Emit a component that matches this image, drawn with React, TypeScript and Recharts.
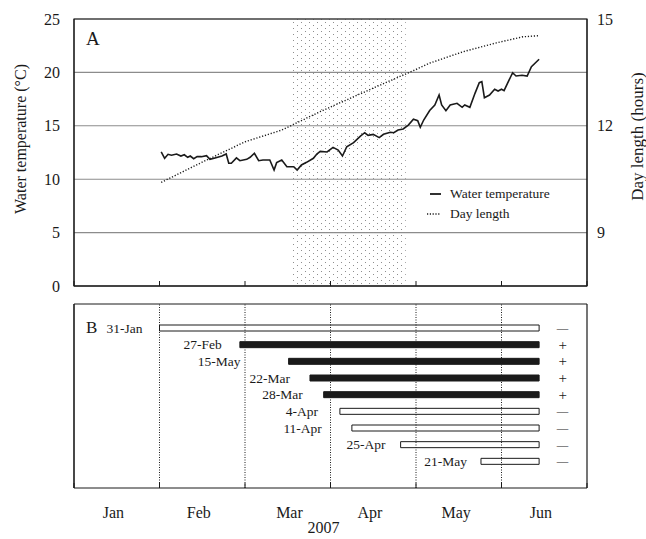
import {
  ComposedChart,
  BarChart,
  Line,
  Bar,
  Cell,
  XAxis,
  YAxis,
  CartesianGrid,
  ReferenceArea,
  ReferenceLine,
  LabelList,
  Legend,
} from "recharts"

const SERIF = "'Liberation Serif', 'Times New Roman', Times, serif"
const INK = "#1a1a1a"

// x is in month units: 0 = start of Jan, 1 = start of Feb, ... 6 = end of Jun
const monthEdges = [0, 1, 2, 3, 4, 5, 6]
const monthNames = ["Jan", "Feb", "Mar", "Apr", "May", "Jun"]
const monthLabelAt = [0.46, 1.46, 2.52, 3.46, 4.47, 5.46]

const tempTicks = [0, 5, 10, 15, 20, 25]
const dayTicks = [9, 12, 15]

// panel A – water temperature (°C)
const waterX = [
  1.02, 1.06, 1.1, 1.14, 1.2, 1.25, 1.29, 1.33, 1.36, 1.4, 1.44, 1.49, 1.55, 1.59, 1.65, 1.73, 1.78, 1.81,
  1.84, 1.9, 1.94, 2.02, 2.06, 2.11, 2.16, 2.21, 2.29, 2.34, 2.37, 2.43, 2.49, 2.57, 2.61, 2.66, 2.72, 2.8,
  2.84, 2.88, 2.96, 3.03, 3.09, 3.14, 3.19, 3.27, 3.35, 3.4, 3.44, 3.5, 3.57, 3.62, 3.7, 3.74, 3.79, 3.85,
  3.91, 3.97, 4.02, 4.05, 4.09, 4.16, 4.22, 4.27, 4.3, 4.35, 4.4, 4.48, 4.54, 4.57, 4.63, 4.69, 4.74, 4.77,
  4.8, 4.86, 4.92, 4.96, 5.0, 5.03, 5.07, 5.13, 5.17, 5.24, 5.3, 5.35, 5.44,
]
const waterT = [
  12.55, 11.96, 12.33, 12.24, 12.36, 12.17, 12.29, 12.05, 12.17, 11.92, 12.11, 12.11, 12.2, 11.86, 11.99,
  12.17, 12.36, 11.49, 11.49, 11.99, 11.73, 11.86, 12.05, 12.43, 11.73, 11.8, 11.8, 10.86, 11.55, 11.8,
  11.17, 11.17, 10.86, 11.33, 11.58, 11.96, 12.36, 12.6, 12.55, 12.98, 12.73, 12.17, 13.04, 13.42, 14.04,
  14.35, 14.11, 14.2, 13.89, 14.2, 14.39, 14.35, 14.61, 14.7, 15.07, 15.61, 15.48, 14.86, 15.54, 16.43,
  16.95, 17.88, 16.95, 16.41, 16.95, 17.11, 16.73, 16.95, 16.73, 18.04, 19.04, 19.13, 17.63, 17.88, 18.42,
  18.26, 18.42, 18.29, 18.98, 19.97, 19.66, 19.73, 19.66, 20.53, 21.23,
]

// panel A – day length (hours)
const dayX = [1.02, 1.5, 2.0, 2.43, 2.88, 3.5, 3.99, 4.16, 4.55, 4.94, 5.25, 5.43]
const dayH = [10.41, 10.98, 11.55, 11.88, 12.4, 13.06, 13.57, 13.76, 14.08, 14.33, 14.5, 14.53]

// dotted period
const shadeFrom = 2.54
const shadeTo = 3.88

// panel B – release groups
const groupNames = ["31-Jan", "27-Feb", "15-May", "22-Mar", "28-Mar", "4-Apr", "11-Apr", "25-Apr", "21-May"]
const groupStart = [1.0, 1.94, 2.51, 2.76, 2.92, 3.11, 3.25, 3.82, 4.76]
const groupEnd = 5.44
const groupFilled = [false, true, true, true, true, false, false, false, false]
const groupSign = ["\u2014", "+", "+", "+", "+", "\u2014", "\u2014", "\u2014", "\u2014"]

const waterData = waterX.map((m, i) => ({ m, v: waterT[i] }))
const dayData = dayX.map((m, i) => ({ m, v: dayH[i] }))
const groupRows = groupNames.map((name, i) => ({
  name,
  span: [groupStart[i], groupEnd],
  filled: groupFilled[i],
  sign: groupSign[i],
}))

// hand-placed gap (px) between each date label and its bar, as in the original figure
const dateLabelGap = [17, 18, 48, 20, 21, 22, 30, 15, 14]

const noTickText = () => <g />

const leftTitle = (props: any) => {
  const vb = props.viewBox
  const cx = vb.x + 2
  const cy = vb.y + vb.height / 2 - 13.5
  return (
    <text x={cx} y={cy} transform={`rotate(-90, ${cx}, ${cy})`} textAnchor="middle" dominantBaseline="central"
      fontFamily={SERIF} fontSize={16} fill={INK}>
      Water temperature (°C)
    </text>
  )
}

const rightTitle = (props: any) => {
  const vb = props.viewBox
  const cx = vb.x + vb.width + 5
  const cy = vb.y + vb.height / 2 - 16
  return (
    <text x={cx} y={cy} transform={`rotate(-90, ${cx}, ${cy})`} textAnchor="middle" dominantBaseline="central"
      fontFamily={SERIF} fontSize={17} fill={INK}>
      Day length (hours)
    </text>
  )
}

const panelTag = (tag: string, dy: number, size: number) => (props: any) => {
  const vb = props.viewBox
  return (
    <text x={vb.x + 12} y={vb.y + dy} fontFamily={SERIF} fontSize={size} fill={INK}>
      {tag}
    </text>
  )
}

const yearTitle = (props: any) => {
  const vb = props.viewBox
  return (
    <text x={vb.x + vb.width / 2 - 7} y={vb.y + vb.height - 6.5} textAnchor="middle"
      fontFamily={SERIF} fontSize={16} fill={INK}>
      2007
    </text>
  )
}

const dateLabel = (p: any) => (
  <text x={Number(p.x) - (dateLabelGap[p.index] ?? 18)} y={Number(p.y) + Number(p.height) / 2} textAnchor="end"
    dominantBaseline="central" fontFamily={SERIF} fontSize={13.5} fill={INK}>
    {p.value}
  </text>
)

const signLabel = (p: any) => (
  <text x={Number(p.x) + Number(p.width) + 23.5} y={Number(p.y) + Number(p.height) / 2} textAnchor="middle"
    dominantBaseline="central" fontFamily={SERIF} fontSize={p.value === "+" ? 15 : 11.5} fill={INK}>
    {p.value}
  </text>
)

const LegendBox = () => (
  <div style={{ fontFamily: SERIF, fontSize: 13.5, color: INK, lineHeight: "20px" }}>
    <div style={{ display: "flex", alignItems: "center", height: 20 }}>
      <svg width={20} height={10}>
        <line x1={5} y1={5} x2={16} y2={5} stroke={INK} strokeWidth={1.8} />
      </svg>
      <span style={{ marginLeft: 5 }}>Water temperature</span>
    </div>
    <div style={{ display: "flex", alignItems: "center", height: 20 }}>
      <svg width={20} height={10}>
        <line x1={2} y1={5} x2={16} y2={5} stroke={INK} strokeWidth={1.3} strokeDasharray="1.2 1.6" />
      </svg>
      <span style={{ marginLeft: 5 }}>Day length</span>
    </div>
  </div>
)

export default function App() {
  return (
    <div style={{ position: "absolute", left: 0, top: 0, width: 646, height: 539, background: "#fff", fontFamily: SERIF }}>
      <div style={{ position: "absolute", left: 0, top: 0 }}>
        <ComposedChart width={646} height={300} margin={{ top: 19, right: 14, bottom: 13, left: 18 }}>
          <defs>
            <pattern id="dotfill" width="8" height="6" patternUnits="userSpaceOnUse">
              <rect x="1" y="1" width="1" height="1" fill="#8e8e8e" />
              <rect x="5" y="4" width="1" height="1" fill="#8e8e8e" />
            </pattern>
          </defs>
          <ReferenceArea yAxisId="t" x1={shadeFrom} x2={shadeTo} y1={0} y2={25} fill="url(#dotfill)" fillOpacity={1} stroke="none" />
          <CartesianGrid yAxisId="t" vertical={false} stroke="#8c8c8c" strokeWidth={1.1} />
          <XAxis type="number" dataKey="m" domain={[0, 6]} ticks={monthEdges} tick={noTickText} tickSize={-5}
            height={1} stroke={INK} allowDataOverflow />
          <YAxis yAxisId="t" domain={[0, 25]} ticks={tempTicks} width={56} tickLine={false} tickSize={6} tickMargin={8}
            axisLine={{ stroke: INK }} tick={{ fill: INK, fontSize: 16, fontFamily: SERIF }} label={leftTitle} />
          <YAxis yAxisId="d" orientation="right" domain={[7.5, 15]} ticks={dayTicks} width={45} tickLine={false}
            tickSize={6} tickMargin={4} axisLine={{ stroke: INK }} tick={{ fill: INK, fontSize: 16, fontFamily: SERIF }}
            label={rightTitle} />
          <Line yAxisId="d" data={dayData} dataKey="v" type="linear" stroke={INK} strokeWidth={1.4}
            strokeDasharray="1.2 1.8" dot={false} activeDot={false} isAnimationActive={false} />
          <Line yAxisId="t" data={waterData} dataKey="v" type="linear" stroke={INK} strokeWidth={1.6}
            dot={false} activeDot={false} isAnimationActive={false} />
          <ReferenceArea yAxisId="t" x1={0} x2={6} y1={0} y2={25} fill="none" stroke={INK} strokeWidth={1.2}
            label={panelTag("A", 26, 19)} />
          <Legend layout="vertical" align="center" verticalAlign="middle" content={<LegendBox />}
            wrapperStyle={{ left: 425, top: 184, width: 170 }} />
        </ComposedChart>
      </div>
      <div style={{ position: "absolute", left: 0, top: 290 }}>
        <BarChart layout="vertical" width={646} height={249} data={groupRows}
          margin={{ top: 13, right: 59, bottom: 0, left: 73 }}>
          <XAxis xAxisId="top" orientation="top" type="number" domain={[0, 6]} tick={false} tickLine={false}
            height={1} stroke={INK} allowDataOverflow />
          <XAxis xAxisId="b" type="number" domain={[0, 6]} ticks={monthEdges} tick={noTickText} tickSize={-5}
            height={1} stroke={INK} allowDataOverflow />
          <XAxis xAxisId="lab" type="number" domain={[0, 6]} ticks={monthLabelAt}
            tickFormatter={(_v: number, i: number) => monthNames[i]} axisLine={false} tickLine={false}
            tickSize={0} tickMargin={18} height={50} tick={{ fill: INK, fontSize: 16, fontFamily: SERIF }}
            label={yearTitle} allowDataOverflow />
          <YAxis type="category" dataKey="name" width={1} tick={false} tickLine={false}
            axisLine={{ stroke: INK }} padding={{ top: 16, bottom: 18 }} />
          {monthEdges.slice(1, -1).map((m) => (
            <ReferenceLine key={m} xAxisId="b" x={m} stroke={INK} strokeWidth={1} strokeDasharray="1 1.5" />
          ))}
          <ReferenceLine xAxisId="b" x={0} stroke={INK} strokeWidth={1.2} label={panelTag("B", 28.5, 17)} />
          <ReferenceLine xAxisId="b" x={6} stroke={INK} strokeWidth={1.2} />
          <Bar xAxisId="b" dataKey="span" barSize={6} stroke={INK} strokeWidth={1} isAnimationActive={false}>
            {groupRows.map((r) => (
              <Cell key={r.name} fill={r.filled ? INK : "#fff"} />
            ))}
            <LabelList dataKey="name" content={dateLabel} />
            <LabelList dataKey="sign" content={signLabel} />
          </Bar>
        </BarChart>
      </div>
    </div>
  )
}
